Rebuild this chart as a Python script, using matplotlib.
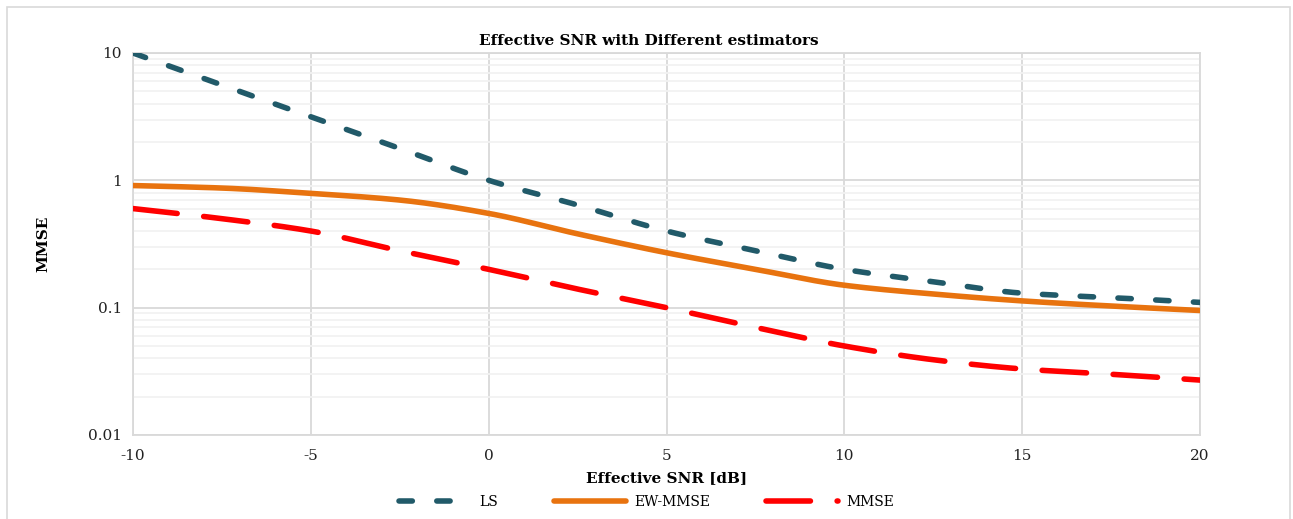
import matplotlib
matplotlib.use("Agg")
import matplotlib.pyplot as plt
from matplotlib.patches import Rectangle
from matplotlib.ticker import FixedLocator, FixedFormatter, LogLocator, NullFormatter
import numpy as np

snr = [-10, -7.5, -5, -2.5, 0, 2.5, 5, 7.5, 10, 12.5, 15, 17.5, 20]
ls_vals = [10, 5.6, 3.16, 1.78, 1.0, 0.64, 0.40, 0.28, 0.20, 0.16, 0.13, 0.12, 0.11]
ew_vals = [0.91, 0.87, 0.79, 0.70, 0.55, 0.38, 0.27, 0.20, 0.15, 0.128, 0.113, 0.103, 0.095]
mmse_vals = [0.60, 0.50, 0.40, 0.28, 0.20, 0.14, 0.10, 0.07, 0.05, 0.039, 0.033, 0.030, 0.027]
xticks = [-10, -5, 0, 5, 10, 15, 20]
yticks = [0.01, 0.1, 1, 10]
ytick_labels = ["0.01", "0.1", "1", "10"]

plt.rcParams['font.family'] = ['DejaVu Serif']
plt.rcParams['axes.unicode_minus'] = False

fig = plt.figure(figsize=(12.93, 5.19), dpi=100)
fig.patches.append(Rectangle((7/1293, -0.1), 1283/1293, 1.1 - 7/519, transform=fig.transFigure,
                             fill=False, edgecolor='#D9D9D9', linewidth=1.2))
ax = fig.add_axes([133/1293, 1 - 435/519, (1200 - 133)/1293, (435 - 53)/519])

def smooth(x, y, n=400):
    xs = np.linspace(min(x), max(x), n)
    ly = np.log10(y)
    x = np.asarray(x, float); ly = np.asarray(ly, float)
    h = np.diff(x); d = np.diff(ly) / h
    m = np.zeros_like(ly)
    m[0] = d[0]; m[-1] = d[-1]
    for i in range(1, len(x) - 1):
        if d[i-1] * d[i] <= 0:
            m[i] = 0
        else:
            w1 = 2*h[i] + h[i-1]; w2 = h[i] + 2*h[i-1]
            m[i] = (w1 + w2) / (w1/d[i-1] + w2/d[i])
    ys = np.empty_like(xs)
    for j, xv in enumerate(xs):
        i = min(np.searchsorted(x, xv) - 1, len(x) - 2); i = max(i, 0)
        t = (xv - x[i]) / h[i]
        h00 = 2*t**3 - 3*t**2 + 1; h10 = t**3 - 2*t**2 + t
        h01 = -2*t**3 + 3*t**2; h11 = t**3 - t**2
        ys[j] = h00*ly[i] + h10*h[i]*m[i] + h01*ly[i+1] + h11*h[i]*m[i+1]
    return xs, 10**ys

x1, y1 = smooth(snr, ls_vals)
x2, y2 = smooth(snr, ew_vals)
x3, y3 = smooth(snr, mmse_vals)

LW = 4.0
ax.plot(x1, y1, color='#215A69', lw=LW, dashes=(2.4, 4.4), dash_capstyle='round', label='LS', zorder=3)
ax.plot(x2, y2, color='#E8730F', lw=LW, solid_capstyle='round', label='EW-MMSE', zorder=3)
ax.plot(x3, y3, color='#FF0000', lw=LW, dashes=(8, 4.8), dash_capstyle='round', label='MMSE', zorder=3)

ax.set_yscale('log')
ax.set_xlim(-10, 20)
ax.set_ylim(0.01, 10)
ax.xaxis.set_major_locator(FixedLocator(xticks))
ax.yaxis.set_major_locator(FixedLocator(yticks))
ax.yaxis.set_major_formatter(FixedFormatter(ytick_labels))
ax.yaxis.set_minor_locator(LogLocator(base=10, subs=np.arange(2, 10)))
ax.yaxis.set_minor_formatter(NullFormatter())
ax.grid(True, which='major', color='#D9D9D9', lw=1.3)
ax.grid(True, which='minor', axis='y', color='#F2F2F2', lw=1.3)
ax.set_axisbelow(True)
for s in ax.spines.values():
    s.set_color('#D9D9D9'); s.set_linewidth(1.3)
ax.tick_params(which='both', length=0, labelsize=11, colors='#222222', pad=8)
ax.tick_params(axis='x', pad=10)

fig.text(649/1293, 1 - 41/519, 'Effective SNR with Different estimators', fontsize=11,
         fontweight='bold', ha='center', va='center')
ax.set_xlabel('Effective SNR [dB]', fontsize=11, fontweight='bold', labelpad=6)
ax.set_ylabel('MMSE', fontsize=11, fontweight='bold', labelpad=27)

leg = fig.legend(loc='lower center', bbox_to_anchor=(0.5, -0.005), ncol=3, frameon=False,
                 fontsize=10, handlelength=5.2, columnspacing=4.0, handletextpad=0.6)

fig.savefig('out.png', dpi=100)
